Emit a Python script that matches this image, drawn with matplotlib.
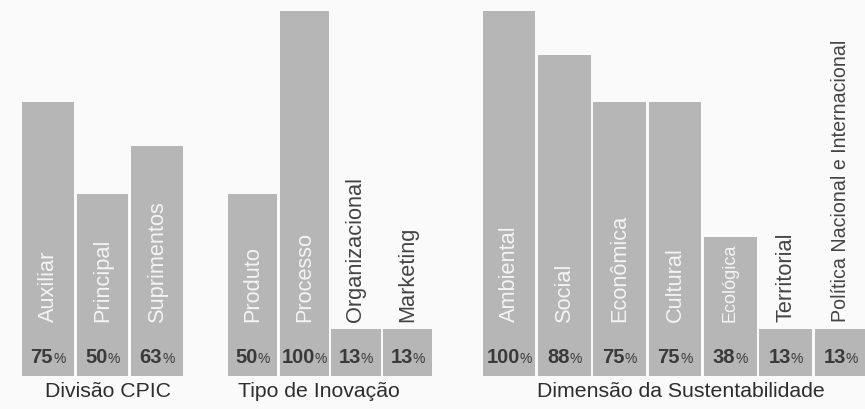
import matplotlib
matplotlib.use("Agg")
import matplotlib.pyplot as plt

# ---- data ----
div_labels = ["Auxiliar", "Principal", "Suprimentos"]
div_values = [75, 50, 63]
tipo_labels = ["Produto", "Processo", "Organizacional", "Marketing"]
tipo_values = [50, 100, 13, 13]
dim_labels = ["Ambiental", "Social", "Econômica", "Cultural", "Ecológica",
              "Territorial", "Política Nacional e Internacional"]
dim_values = [100, 88, 75, 75, 38, 13, 13]
group_titles = ["Divisão CPIC", "Tipo de Inovação", "Dimensão da Sustentabilidade"]

# ---- layout (pixels) ----
W, H = 865, 410
BOTTOM_PX, TOP_PX = 377, 12
PLOT_PX = BOTTOM_PX - TOP_PX
LABEL_Y = 15            # data units where rotated labels start
MAX_LABEL_PX = 280
groups = [
    (div_labels, div_values, 20.75, 54.5, 108),
    (tipo_labels, tipo_values, 226.7, 51.7, 319),
    (dim_labels, dim_values, 481.5, 55.3, 681),
]
BAR_COLOR = "#b6b6b6"
BG = "#fafafa"
DARK = "#3a3a3a"

plt.rcParams['font.family'] = ['Liberation Sans', 'DejaVu Sans']
fig = plt.figure(figsize=(W / 100, H / 100), dpi=100, facecolor=BG)

pct_texts = []
rot_texts = []
for gi, (labels, values, left, pitch, title_x) in enumerate(groups):
    n = len(values)
    ax = fig.add_axes([left / W, 1 - BOTTOM_PX / H, n * pitch / W,
                       PLOT_PX / H])
    ax.set_xlim(-0.5, n - 0.5)
    ax.set_ylim(0, 100)
    ax.axis("off")
    ax.patch.set_alpha(0)
    ax.bar(range(n), values, width=0.95, color=BAR_COLOR, clip_on=False)
    for i, (lab, v) in enumerate(zip(labels, values)):
        inside = v > 30
        col = "#f4f4f4" if inside else "#444444"
        t = ax.text(i, LABEL_Y, lab, rotation=90, ha="center", va="bottom",
                    fontsize=15.7, color=col, clip_on=False)
        limit = (v - LABEL_Y) / 100 * PLOT_PX - 6 if inside else MAX_LABEL_PX
        rot_texts.append((t, min(limit, MAX_LABEL_PX)))
        a1 = ax.annotate(str(v), xy=(i, 3.8), xytext=(0, 0),
                         textcoords="offset pixels", ha="left", va="baseline",
                         fontsize=14.5, fontweight="bold", color=DARK,
                         annotation_clip=False)
        a2 = ax.annotate("%", xy=(i, 3.8), xytext=(0, 0),
                         textcoords="offset pixels", ha="left", va="baseline",
                         fontsize=10, color=DARK, annotation_clip=False)
        pct_texts.append((a1, a2))
    fig.text(title_x / W, 1 - 392 / H, group_titles[gi],
             ha="center", va="center", fontsize=15.3, color="#2e2e2e")

fig.canvas.draw()
r = fig.canvas.get_renderer()
for t, limit in rot_texts:
    h = t.get_window_extent(r).height
    if h > limit:
        t.set_fontsize(t.get_fontsize() * limit / h)
for a1, a2 in pct_texts:
    w1 = a1.get_window_extent(r).width
    w2 = a2.get_window_extent(r).width
    tot = w1 + w2
    a1.xyann = (-tot / 2, 0)
    a2.xyann = (-tot / 2 + w1, 0)

fig.savefig("out.png", dpi=100, facecolor=BG)
